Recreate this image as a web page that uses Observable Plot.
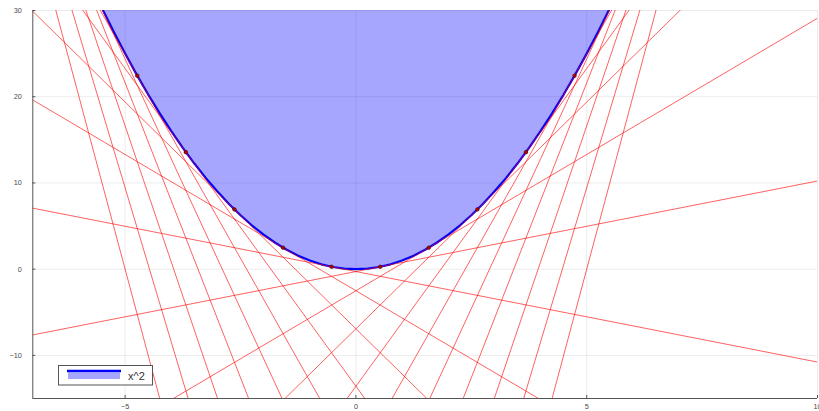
<!DOCTYPE html>
<html>
<head>
<meta charset="utf-8">
<script src="https://cdn.jsdelivr.net/npm/d3@7"></script>
<script src="https://cdn.jsdelivr.net/npm/@observablehq/plot@0.6"></script>
<style>
  html, body { margin: 0; padding: 0; background: #fff; }
  #wrap { position: relative; width: 819px; height: 411px; }
  #legend { position: absolute; left: 58px; top: 365px; }
</style>
</head>
<body>
<div id="wrap"></div>
<script>
// Curve samples of x^2
const curveX = [-5.5,-5.25,-5,-4.75,-4.5,-4.25,-4,-3.75,-3.5,-3.25,-3,-2.75,-2.5,-2.25,-2,-1.75,-1.5,-1.25,-1,-0.75,-0.5,-0.25,0,
  0.25,0.5,0.75,1,1.25,1.5,1.75,2,2.25,2.5,2.75,3,3.25,3.5,3.75,4,4.25,4.5,4.75,5,5.25,5.5];
const curveY = [30.25,27.5625,25,22.5625,20.25,18.0625,16,14.0625,12.25,10.5625,9,7.5625,6.25,5.0625,4,3.0625,2.25,1.5625,1,0.5625,0.25,0.0625,0,
  0.0625,0.25,0.5625,1,1.5625,2.25,3.0625,4,5.0625,6.25,7.5625,9,10.5625,12.25,14.0625,16,18.0625,20.25,22.5625,25,27.5625,30.25];

// Tangent points and slopes
const tangentX = [-10,-8.947,-7.895,-6.842,-5.789,-4.737,-3.684,-2.632,-1.579,-0.526,0.526,1.579,2.632,3.684,4.737,5.789,6.842,7.895,8.947,10];
const tangentY = [100,80.05,62.33,46.81,33.51,22.44,13.57,6.93,2.49,0.277,0.277,2.49,6.93,13.57,22.44,33.51,46.81,62.33,80.05,100];
const tangentSlope = [-20,-17.89,-15.79,-13.68,-11.58,-9.47,-7.37,-5.26,-3.16,-1.05,1.05,3.16,5.26,7.37,9.47,11.58,13.68,15.79,17.89,20];

// Axes
const xDomain = [-7, 10];
const yDomain = [-15, 30];
const xTicks = [-5, 0, 5, 10];
const yTicks = [-10, 0, 10, 20, 30];
const seriesLabel = "x^2";

const curve = curveX.map((x, i) => ({x, y: curveY[i]}));
const points = tangentX.map((x, i) => ({x, y: tangentY[i]}));
const tangentRows = tangentX.flatMap((x, i) => xDomain.map(xe => ({
  k: i, x: xe, y: tangentY[i] + tangentSlope[i] * (xe - x)
})));

const fmt = d => d < 0 ? "\u2212" + (-d) : String(d);
const font = "Liberation Sans, Arial, sans-serif";

const chart = Plot.plot({
  width: 819,
  height: 411,
  marginLeft: 32.3,
  marginRight: 2,
  marginTop: 10,
  marginBottom: 13,
  style: {fontFamily: font, fontSize: "7.3px", color: "#4a4a4a", background: "#fff", overflow: "visible"},
  x: {domain: xDomain},
  y: {domain: yDomain},
  marks: [
    Plot.gridX(xTicks, {stroke: "#000", strokeOpacity: 0.08}),
    Plot.gridY(yTicks, {stroke: "#000", strokeOpacity: 0.08}),
    Plot.areaY(curve, {x: "x", y1: "y", y2: () => yDomain[1], fill: "blue", fillOpacity: 0.35, clip: true}),
    Plot.lineY(curve, {x: "x", y: "y", stroke: "blue", strokeWidth: 2.2, clip: true}),
    Plot.line(tangentRows, {x: "x", y: "y", z: "k", stroke: "#ff0000", strokeOpacity: 0.62, strokeWidth: 1, clip: true}),
    Plot.dot(points, {x: "x", y: "y", r: 1.8, fill: "#c00000", stroke: "#300", strokeWidth: 0.6, clip: true}),
    Plot.ruleX([xDomain[0]], {stroke: "#555", strokeWidth: 1}),
    Plot.ruleY([yDomain[0]], {stroke: "#555", strokeWidth: 1}),
    Plot.axisX({ticks: xTicks, tickFormat: fmt, tickSize: 0, tickPadding: 5, label: null}),
    Plot.axisX({ticks: xTicks, text: null, tickSize: 3, dy: -3, stroke: "#555", label: null}),
    Plot.axisY({ticks: yTicks, tickFormat: fmt, tickSize: 0, tickPadding: 11, label: null}),
    Plot.axisY({ticks: yTicks, text: null, tickSize: 3, dx: 3, stroke: "#555", label: null})
  ]
});

const wrap = document.getElementById("wrap");
wrap.appendChild(chart);

// Legend (inside plot area, bottom-left)
const ns = "http://www.w3.org/2000/svg";
const leg = document.createElementNS(ns, "svg");
leg.setAttribute("id", "legend");
leg.setAttribute("width", "96");
leg.setAttribute("height", "21");
leg.innerHTML = `
  <rect x="0.5" y="0.5" width="94" height="19.5" fill="#fff" stroke="#555" stroke-width="1"/>
  <rect x="10" y="7.5" width="52" height="6.5" fill="blue" fill-opacity="0.35"/>
  <line x1="9" y1="6" x2="63" y2="6" stroke="blue" stroke-width="2.5"/>
  <text x="70" y="14.5" font-family="${font}" font-size="11" fill="#333">${seriesLabel}</text>`;
wrap.appendChild(leg);
</script>
</body>
</html>
